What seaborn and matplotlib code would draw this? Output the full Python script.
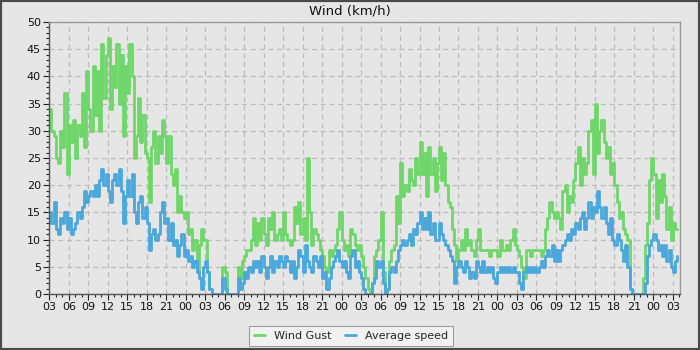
import matplotlib
matplotlib.use("Agg")
import matplotlib.pyplot as plt
import seaborn as sns
import numpy as np
import pandas as pd
from matplotlib.ticker import MultipleLocator, FixedLocator
from matplotlib.patches import Rectangle
from matplotlib.lines import Line2D

# 20-minute samples, hours since 03:00 on day 1
gust = [
    34, 30, 29, 25, 24, 30, 27, 37, 22, 31, 28, 32, 25, 31, 29, 37, 27, 41,
    34, 30, 42, 33, 41, 30, 46, 36, 44, 47, 34, 42, 38, 46, 35, 44, 29, 42,
    37, 46, 40, 25, 29, 36, 28, 33, 26, 25, 17, 27, 30, 24, 29, 26, 32, 29,
    24, 29, 22, 20, 23, 15, 18, 15, 14, 15, 11, 12, 8, 10, 4, 9, 12, 10,
    10, 4, 1, 0, 0, 0, 0, 0, 5, 4, 0, 0, 0, 0, 0, 5, 3, 6,
    7, 8, 8, 10, 14, 9, 13, 10, 14, 11, 9, 14, 12, 15, 10, 11, 12, 10,
    15, 11, 10, 9, 10, 16, 13, 17, 11, 14, 10, 25, 15, 9, 12, 11, 10, 8,
    7, 5, 4, 8, 7, 8, 9, 12, 15, 10, 8, 9, 7, 12, 11, 9, 8, 9,
    7, 5, 3, 1, 0, 2, 7, 8, 10, 15, 4, 0, 1, 6, 8, 9, 18, 13,
    24, 18, 20, 19, 23, 21, 20, 25, 22, 28, 22, 26, 18, 27, 22, 25, 19, 24,
    27, 21, 26, 20, 17, 16, 12, 9, 6, 8, 10, 8, 12, 9, 10, 8, 7, 10,
    12, 8, 8, 8, 8, 7, 8, 8, 8, 7, 10, 8, 8, 9, 8, 10, 12, 9,
    8, 7, 5, 3, 8, 8, 7, 8, 8, 8, 8, 7, 8, 12, 14, 17, 15, 14,
    15, 14, 12, 19, 20, 15, 18, 17, 21, 24, 27, 20, 25, 22, 24, 30, 32, 22,
    35, 26, 30, 32, 28, 25, 27, 22, 24, 20, 17, 14, 15, 12, 11, 10, 1, 0,
    0, 0, 0, 0, 3, 9, 13, 21, 25, 22, 14, 21, 17, 22, 18, 12, 16, 10,
    13, 12, 12,
]
avg = [
    15, 13, 17, 12, 11, 14, 13, 15, 12, 14, 11, 12, 13, 15, 14, 16, 19, 17,
    18, 19, 18, 20, 18, 21, 23, 20, 22, 19, 17, 21, 22, 20, 23, 19, 13, 18,
    21, 18, 22, 15, 13, 17, 18, 14, 16, 13, 8, 11, 12, 10, 11, 15, 17, 13,
    14, 10, 13, 9, 10, 7, 9, 11, 7, 8, 6, 7, 5, 6, 4, 3, 1, 5,
    6, 4, 1, 0, 0, 0, 0, 0, 3, 1, 0, 0, 0, 0, 0, 3, 1, 2,
    4, 3, 5, 4, 6, 5, 6, 4, 7, 5, 3, 5, 7, 4, 6, 5, 7, 6,
    5, 7, 6, 4, 6, 3, 5, 8, 7, 4, 9, 6, 5, 4, 7, 6, 5, 7,
    3, 4, 1, 3, 5, 6, 7, 8, 6, 5, 6, 4, 3, 7, 8, 5, 6, 4,
    3, 1, 0, 0, 0, 2, 3, 6, 5, 6, 2, 0, 1, 4, 5, 4, 6, 8,
    9, 10, 9, 10, 11, 9, 12, 11, 13, 15, 12, 14, 12, 15, 11, 13, 10, 10,
    13, 11, 10, 9, 8, 7, 6, 2, 5, 6, 5, 4, 6, 5, 3, 4, 3, 6,
    5, 4, 6, 4, 5, 4, 5, 3, 2, 4, 5, 4, 5, 4, 5, 4, 5, 4,
    4, 2, 1, 4, 5, 4, 5, 4, 5, 4, 5, 6, 5, 7, 8, 7, 9, 6,
    8, 6, 8, 9, 10, 11, 10, 12, 11, 13, 12, 14, 15, 12, 14, 17, 14, 16,
    15, 19, 16, 14, 16, 13, 11, 14, 10, 9, 11, 10, 8, 6, 9, 5, 1, 0,
    0, 0, 0, 0, 0, 2, 7, 9, 10, 11, 10, 8, 9, 7, 9, 6, 8, 5,
    4, 6, 7,
]
hour_labels = ["03", "06", "09", "12", "15", "18", "21", "00"] * 4 + ["03"]
series_names = ["Wind Gust", "Average speed"]
title = "Wind (km/h)"

n = min(len(gust), len(avg))
hours = np.arange(n) / 3.0
df = pd.DataFrame({
    "hours": np.concatenate([hours, hours]),
    "value": np.concatenate([gust[:n], avg[:n]]),
    "series": [series_names[0]] * n + [series_names[1]] * n,
})

sns.set_style("white")
plt.rcParams["font.family"] = ["DejaVu Sans"]

bg = "#e6e6e6"
fig = plt.figure(figsize=(7, 3.5), dpi=100, facecolor=bg)
ax = fig.add_axes([0.0704, 0.16, 0.9010, 0.777])
ax.set_facecolor(bg)

palette = {series_names[0]: "#6fd66a", series_names[1]: "#4ba8da"}
sns.lineplot(data=df, x="hours", y="value", hue="series", palette=palette,
             drawstyle="steps-post", linewidth=2.0, ax=ax, legend=False,
             estimator=None, sort=False)

ax.set_xlim(0, 97.1)
ax.set_ylim(0, 50)
ax.xaxis.set_major_locator(FixedLocator(np.arange(0, 97, 3)))
ax.set_xticklabels(hour_labels)
ax.xaxis.set_minor_locator(MultipleLocator(1))
ax.yaxis.set_major_locator(MultipleLocator(5))
ax.yaxis.set_minor_locator(MultipleLocator(1))
ax.tick_params(axis="both", which="major", direction="out", length=4, width=0.8,
               labelsize=8, color="#222222", labelcolor="#111111", pad=2,
               bottom=True, left=True)
ax.tick_params(axis="both", which="minor", direction="out", length=2.5, width=0.8,
               color="#222222", bottom=True, left=True)
ax.grid(True, which="major", color="#bdbdbd", linestyle=(0, (4, 3)), linewidth=0.9)
ax.set_axisbelow(True)
ax.set_xlabel("")
ax.set_ylabel("")
for side in ["left", "bottom"]:
    ax.spines[side].set_color("#555555")
    ax.spines[side].set_linewidth(1.0)
for side in ["top", "right"]:
    ax.spines[side].set_color("#9a9a9a")
    ax.spines[side].set_linewidth(1.0)

fig.text(0.5, 0.97, title, ha="center", va="center", fontsize=9.5, color="#111111")

handles = [Line2D([], [], color=palette[s], linewidth=2) for s in series_names]
leg = fig.legend(handles, series_names, loc="center", bbox_to_anchor=(0.501, 0.039),
                 ncol=2, fontsize=8, frameon=True, fancybox=False,
                 handlelength=1.0, handletextpad=0.8, columnspacing=1.2,
                 borderpad=0.45)
leg.get_frame().set_facecolor("#f5f5f5")
leg.get_frame().set_edgecolor("#8a8a8a")
leg.get_frame().set_linewidth(0.8)

fig.patches.append(Rectangle((0, 0), 1, 1, transform=fig.transFigure, fill=False,
                             edgecolor="#4a4a4a", linewidth=3, zorder=10))

fig.savefig("out.png", dpi=100, facecolor=bg)
